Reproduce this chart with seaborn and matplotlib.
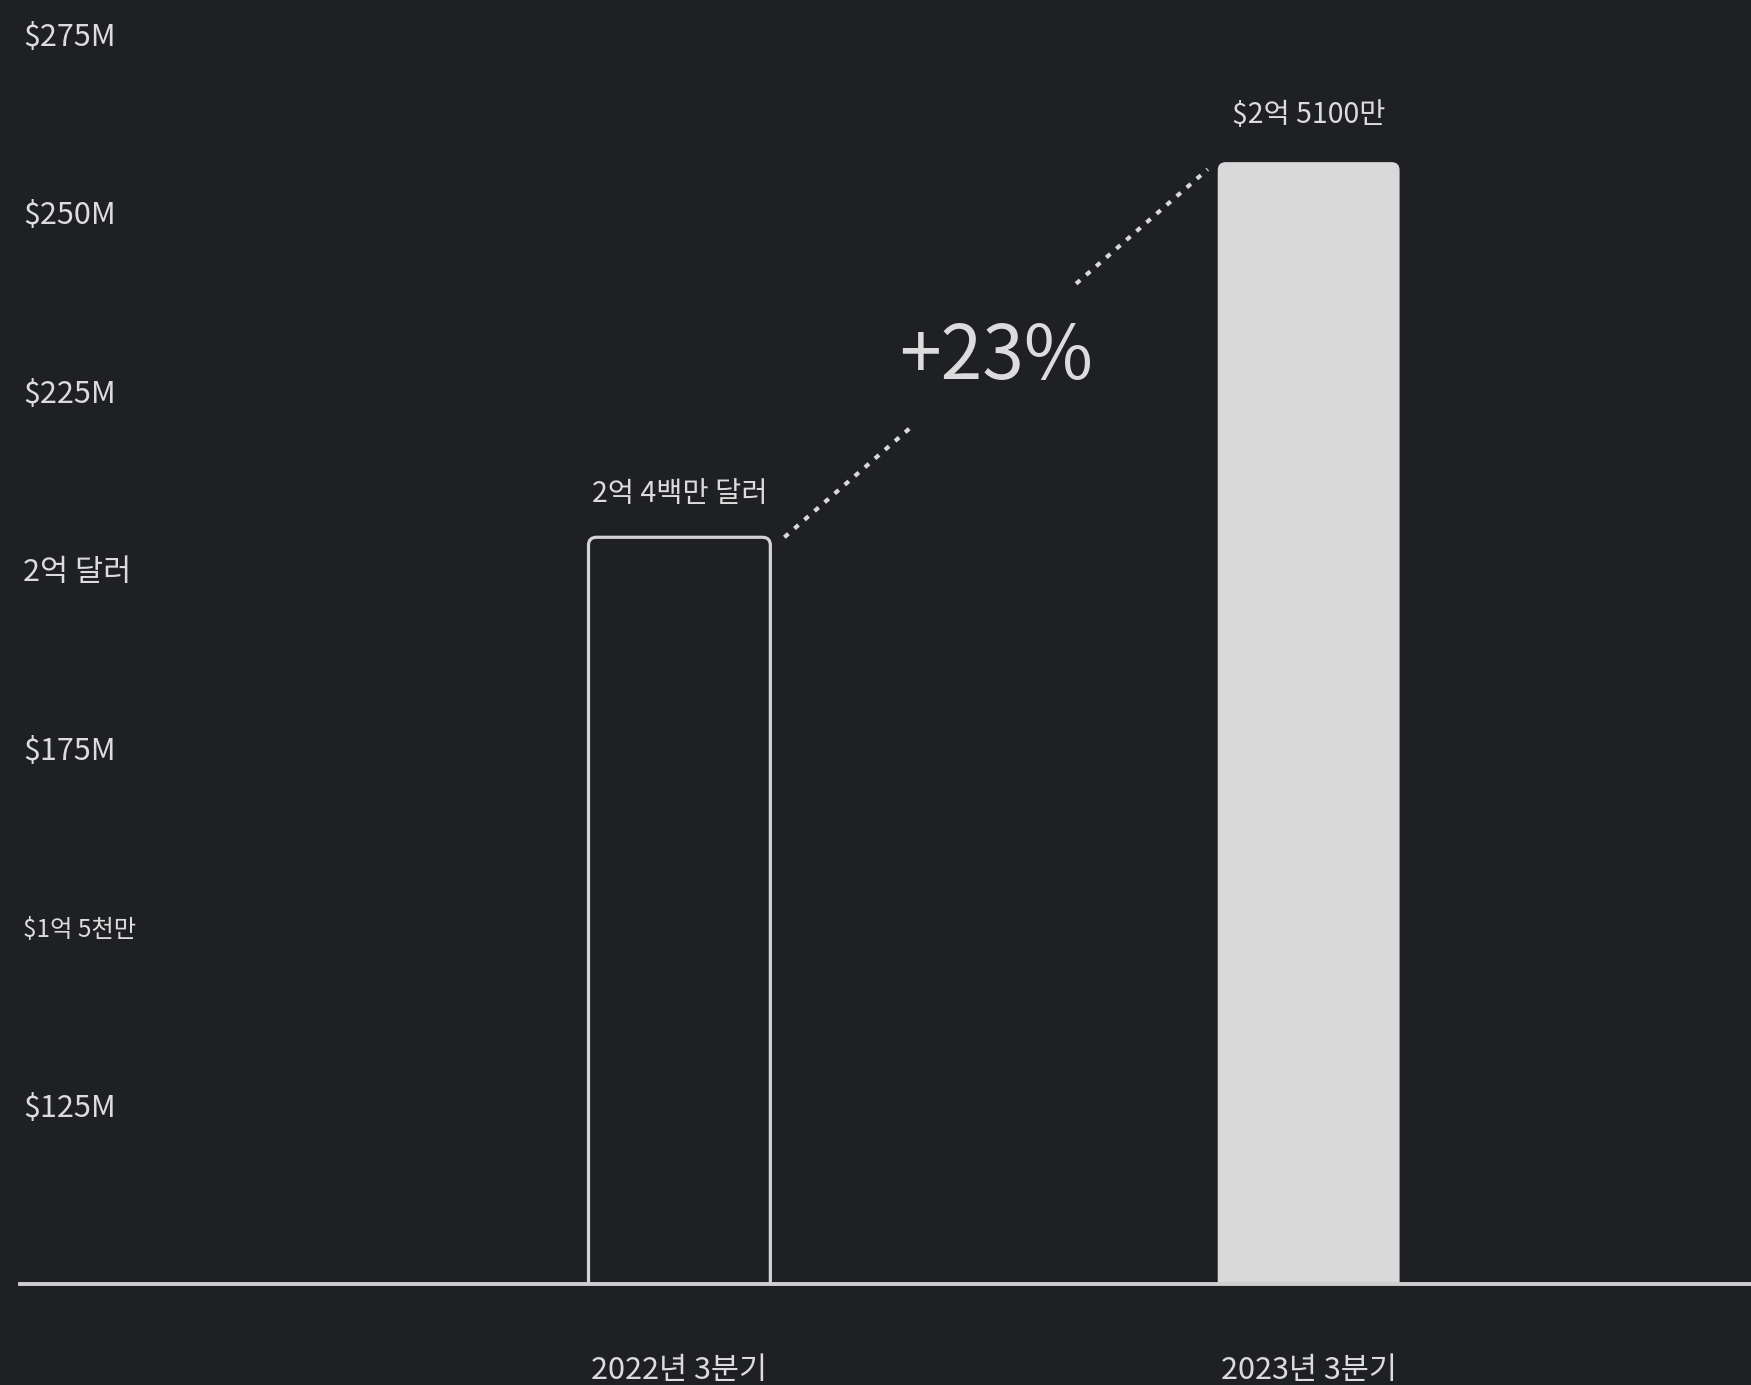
import matplotlib
matplotlib.use('Agg')
import matplotlib.pyplot as plt
import seaborn as sns
import pandas as pd
from matplotlib.patches import FancyBboxPatch

# ---- data ----
quarters = ['2022년 3분기', '2023년 3분기']
revenue_musd = [204.5, 257.0]
bar_labels = ['2억 4백만 달러', '$2억 5100만']
ytick_values = [125, 150, 175, 200, 225, 250, 275]
ytick_labels = ['$125M', '$1억 5천만', '$175M', '2억 달러', '$225M', '$250M', '$275M']
growth_label = '+23%'

BG = '#1f2023'
FG = '#d9d9d9'
TXT = '#dcdcdc'

sns.set_theme(style='dark', rc={'axes.facecolor': BG, 'figure.facecolor': BG})
plt.rcParams['font.family'] = ['Noto Sans CJK KR', 'DejaVu Sans']

W, H = 1751, 1385
fig = plt.figure(figsize=(W / 100, H / 100), dpi=100, facecolor=BG)
ax = fig.add_axes([20 / W, 101 / H, 1 - 20 / W, 1250.5 / H])
ax.set_facecolor(BG)

df = pd.DataFrame({'quarter': quarters, 'revenue': revenue_musd})
bar_w = 0.289
sns.barplot(data=df, x='quarter', y='revenue', ax=ax, width=bar_w, color=FG,
            saturation=1)

ax.set_xlim(-1.048, 1.703)
ax.set_ylim(100, 275)

# rounded-top bars built from the seaborn bar geometry
fig.canvas.draw()
x_per_px = (ax.get_xlim()[1] - ax.get_xlim()[0]) / ax.bbox.width
y_per_px = (ax.get_ylim()[1] - ax.get_ylim()[0]) / ax.bbox.height
aspect = y_per_px / x_per_px
patches = list(ax.patches)
tops = []
for i, p in enumerate(patches):
    x0, y0 = p.get_x(), p.get_y()
    w, h = p.get_width(), p.get_height()
    tops.append((x0, w, y0 + h))
    p.remove()
    if i == 0:
        fb = FancyBboxPatch((x0, y0), w, h,
                            boxstyle=f'round,pad=0,rounding_size={8 * x_per_px}',
                            mutation_aspect=aspect, facecolor=BG, edgecolor='#d4d4d4',
                            linewidth=2.3, zorder=2)
    else:
        fb = FancyBboxPatch((x0, y0), w, h,
                            boxstyle=f'round,pad=0,rounding_size={8 * x_per_px}',
                            mutation_aspect=aspect, facecolor=FG, edgecolor='none',
                            linewidth=0, zorder=2)
    ax.add_patch(fb)

# bar value labels
for (x0, w, top), lab, off in zip(tops, bar_labels, [31, 34]):
    ax.annotate(lab, (x0 + w / 2, top), xytext=(0, off), textcoords='offset points',
                ha='center', va='center', fontsize=20.5, color=TXT)

# dotted connector with gap for growth label
(xa, wa, ya), (xb, wb, yb) = tops
sx, sy = xa + wa + 14 * x_per_px, ya
ex, ey = xb - 10 * x_per_px, yb - 1.0
for t0, t1 in [(0.0, 0.304), (0.689, 1.0)]:
    ax.plot([sx + (ex - sx) * t0, sx + (ex - sx) * t1],
            [sy + (ey - sy) * t0, sy + (ey - sy) * t1],
            color=FG, lw=3.0, linestyle=(0, (1.3, 1.9)), dash_capstyle='butt', zorder=3)
ax.text((sx + ex) / 2, (sy + ey) / 2 - 0.6, growth_label, ha='center', va='center',
        fontsize=54, color=TXT, zorder=4)

# axes styling
for s in ['top', 'right', 'left']:
    ax.spines[s].set_visible(False)
ax.spines['bottom'].set_color('#cfcfcf')
ax.spines['bottom'].set_linewidth(2.8)
ax.spines['bottom'].set_zorder(5)
ax.grid(False)
ax.set_xlabel('')
ax.set_ylabel('')

ax.set_yticks(ytick_values)
ax.set_yticklabels(ytick_labels, ha='left')
ax.tick_params(axis='y', length=0, pad=-2, labelsize=22, labelcolor=TXT)
ax.get_yticklabels()[1].set_fontsize(17.5)
ax.tick_params(axis='x', length=0, pad=51, labelsize=22, labelcolor=TXT)

fig.savefig('out.png', dpi=100, facecolor=BG)
